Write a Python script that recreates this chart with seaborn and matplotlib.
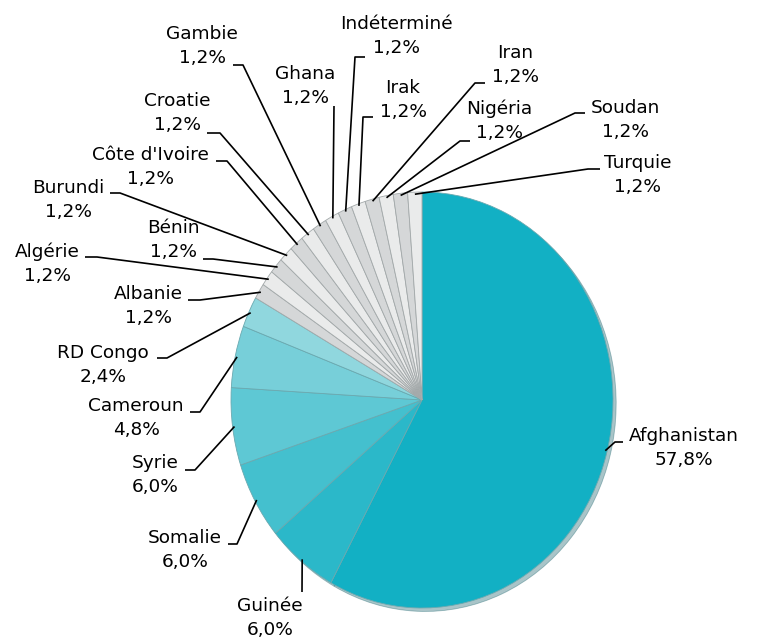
import matplotlib
matplotlib.use('Agg')
import matplotlib.pyplot as plt
import seaborn as sns
import numpy as np

# pays et parts (%)
countries = ['Afghanistan', 'Guinée', 'Somalie', 'Syrie', 'Cameroun', 'RD Congo',
             'Albanie', 'Algérie', 'Bénin', 'Burundi', "Côte d'Ivoire", 'Croatie',
             'Gambie', 'Ghana', 'Indéterminé', 'Irak', 'Iran', 'Nigéria', 'Soudan', 'Turquie']
shares = [57.8, 6.0, 6.0, 6.0, 4.8, 2.4,
          1.2, 1.2, 1.2, 1.2, 1.2, 1.2, 1.2, 1.2, 1.2, 1.2, 1.2, 1.2, 1.2, 1.2]
pct_labels = ['57,8%', '6,0%', '6,0%', '6,0%', '4,8%', '2,4%'] + ['1,2%'] * 14

# layout of the labels, in image pixels: text centre, leader start, leader corner
label_pos = [
    (684, 448, (623, 442), (615, 442)),   # Afghanistan
    (270, 618, (302, 592), (302, 592)),   # Guinee
    (185, 550, (228, 544), (237, 544)),   # Somalie
    (155, 475, (185, 470), (195, 470)),   # Syrie
    (136, 418, (190, 412), (200, 412)),   # Cameroun
    (103, 365, (157, 358), (167, 358)),   # RD Congo
    (148, 306, (188, 300), (200, 300)),   # Albanie
    (47, 264, (85, 257), (97, 257)),      # Algerie
    (173, 240, (203, 259), (213, 259)),   # Benin
    (68, 200, (110, 193), (120, 193)),    # Burundi
    (150, 167, (216, 161), (227, 161)),   # Cote d'Ivoire
    (177, 113, (207, 133), (220, 133)),   # Croatie
    (202, 46, (233, 65), (243, 65)),      # Gambie
    (305, 86, (334, 106), (334, 106)),    # Ghana
    (396, 36, (365, 57), (355, 57)),      # Indetermine
    (403, 100, (373, 117), (363, 117)),   # Irak
    (515, 65, (485, 83), (475, 83)),      # Iran
    (499, 121, (470, 141), (460, 141)),   # Nigeria
    (625, 120, (585, 113), (575, 113)),   # Soudan
    (638, 175, (600, 169), (588, 169)),   # Turquie
]

CX, CY, RX, RY = 422, 400, 191, 208
W, H = 759, 643


def px(x, y):
    return (x - CX) / RX, (CY - y) / RY


sns.set_theme(style='white')
plt.rcParams['font.family'] = ['DejaVu Sans']

teal = sns.blend_palette(['#12b0c4', '#a9dfe3'], 7)[:6]
greys = ['#d5d7d8' if i % 2 == 0 else '#eaebeb' for i in range(14)]
colors = teal + greys

fig = plt.figure(figsize=(W / 100, H / 100), dpi=100)
ax = fig.add_axes([0, 0, 1, 1])

wedges, _ = ax.pie(shares, colors=colors, startangle=90, counterclock=False,
                   radius=1, wedgeprops=dict(edgecolor='#a3a9aa', linewidth=0.6),
                   shadow=dict(ox=0.012, oy=-0.012, shade=0.5, alpha=0.35))
for w in wedges[:6]:
    w.set_edgecolor('#6aa9b0')

ax.set_aspect('auto')
ax.set_xlim(-CX / RX, (W - CX) / RX)
ax.set_ylim((CY - H) / RY, CY / RY)
ax.axis('off')

for w, name, pct, (tx, ty, start, corner) in zip(wedges, countries, pct_labels, label_pos):
    mid = np.deg2rad((w.theta1 + w.theta2) / 2)
    ex, ey = np.cos(mid) * 0.99, np.sin(mid) * 0.99
    sx, sy = px(*start)
    cx, cy = px(*corner)
    ax.plot([sx, cx, ex], [sy, cy, ey], color='black', lw=1.2, solid_capstyle='butt', zorder=5)
    x, y = px(tx, ty)
    ax.text(x, y, f'{name}\n{pct}', ha='center', va='center', fontsize=13.3,
            linespacing=1.45, color='black', zorder=6)

fig.savefig('out.png', dpi=100)
